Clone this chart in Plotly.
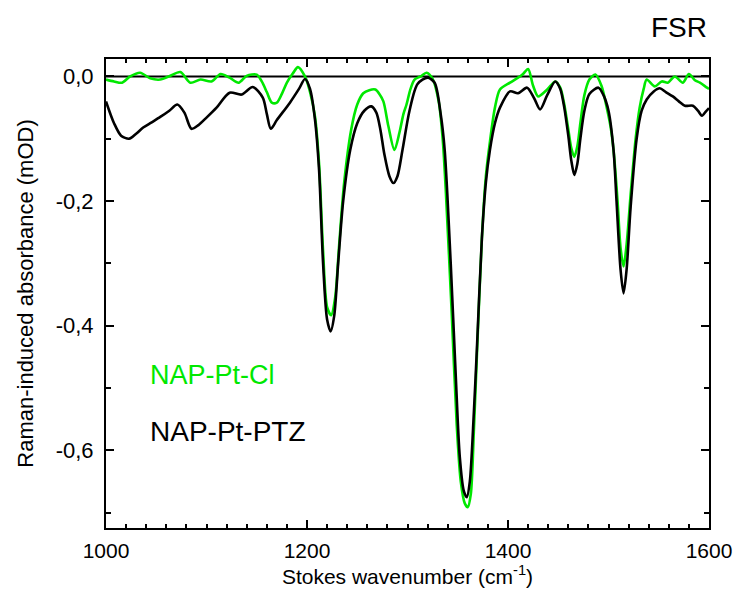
import plotly.graph_objects as go

# NAP-Pt-PTZ (black)
ptz_x = [1000, 1008, 1015, 1023, 1030, 1037, 1045, 1054, 1063, 1071, 1078, 1085, 1092, 1100,
         1110, 1123, 1135, 1146, 1156, 1160, 1164, 1170, 1183, 1192, 1198, 1203, 1208, 1212,
         1216, 1220, 1223.5, 1227, 1231, 1236, 1243, 1250, 1257, 1264, 1269, 1273, 1277, 1282,
         1286, 1290, 1295, 1302, 1310, 1320, 1327, 1333, 1337, 1343, 1348, 1352, 1356, 1359,
         1362, 1366, 1369, 1374, 1378, 1382, 1387, 1392, 1402, 1410, 1419, 1426, 1432, 1439,
         1447, 1452, 1456, 1460, 1463, 1466, 1469, 1472, 1476, 1481, 1490, 1495, 1500, 1505,
         1508, 1512, 1515, 1518, 1522, 1528, 1533, 1538, 1545, 1551, 1557, 1564, 1570, 1576,
         1584, 1589, 1593, 1597, 1600]
ptz_y = [-0.040, -0.075, -0.095, -0.100, -0.092, -0.082, -0.074, -0.065, -0.055, -0.045, -0.058, -0.084, -0.078, -0.066,
         -0.050, -0.026, -0.029, -0.017, -0.034, -0.060, -0.084, -0.070, -0.042, -0.020, -0.004, -0.020, -0.070, -0.150,
         -0.300, -0.390, -0.409, -0.385, -0.300, -0.200, -0.118, -0.075, -0.055, -0.048, -0.058, -0.085, -0.125, -0.160,
         -0.171, -0.160, -0.118, -0.055, -0.012, -0.002, -0.010, -0.060, -0.118, -0.300, -0.480, -0.610, -0.665, -0.675,
         -0.650, -0.540, -0.439, -0.260, -0.170, -0.118, -0.075, -0.050, -0.024, -0.027, -0.018, -0.035, -0.053, -0.030,
         -0.008, -0.020, -0.050, -0.095, -0.135, -0.158, -0.140, -0.100, -0.055, -0.028, -0.018, -0.030, -0.055, -0.118,
         -0.200, -0.310, -0.348, -0.310, -0.210, -0.100, -0.055, -0.037, -0.024, -0.019, -0.025, -0.032, -0.040, -0.047,
         -0.047, -0.055, -0.063, -0.056, -0.051]

# NAP-Pt-Cl (green)
cl_x = [1000, 1008, 1016, 1024, 1034, 1044, 1054, 1064, 1074, 1084, 1094, 1105, 1114, 1123, 1132,
        1140, 1150, 1155, 1160, 1165, 1170, 1175, 1180, 1186, 1191, 1198, 1203, 1208, 1212,
        1216, 1220, 1224, 1228, 1232, 1237, 1244, 1250, 1256, 1262, 1268, 1272, 1276, 1281,
        1287, 1292, 1296, 1299, 1303, 1307, 1313, 1319, 1325, 1331, 1335, 1338, 1344, 1349,
        1353, 1357, 1360, 1363, 1366, 1369, 1374, 1378, 1382, 1387, 1392, 1402, 1410, 1415,
        1420, 1425, 1430, 1439, 1447, 1452, 1456, 1460, 1463, 1466, 1469, 1472, 1476, 1481,
        1487, 1493, 1498, 1502, 1505, 1509, 1512, 1515, 1518, 1522, 1527, 1531, 1535, 1538,
        1546, 1553, 1559, 1566, 1574, 1580, 1586, 1591, 1598, 1600]
cl_y = [-0.005, -0.008, -0.010, 0.000, 0.006, -0.003, -0.005, 0.001, 0.007, -0.010, -0.005, -0.008, 0.004, -0.002, -0.010,
        0.001, 0.003, -0.008, -0.025, -0.042, -0.042, -0.028, -0.010, 0.005, 0.015, 0.000, -0.025, -0.065, -0.140,
        -0.280, -0.370, -0.383, -0.355, -0.270, -0.170, -0.085, -0.045, -0.027, -0.022, -0.021, -0.028, -0.040, -0.080,
        -0.118, -0.090, -0.060, -0.045, -0.020, -0.005, 0.000, 0.006, -0.004, -0.040, -0.100, -0.180, -0.380, -0.560,
        -0.650, -0.685, -0.691, -0.670, -0.570, -0.450, -0.260, -0.160, -0.105, -0.050, -0.021, -0.010, -0.002, 0.004,
        0.012, -0.015, -0.032, -0.021, -0.008, -0.018, -0.045, -0.085, -0.115, -0.129, -0.112, -0.075, -0.030, -0.005,
        0.003, -0.015, -0.048, -0.080, -0.118, -0.200, -0.275, -0.305, -0.270, -0.190, -0.100, -0.050, -0.020, -0.005,
        -0.016, -0.008, -0.010, 0.000, -0.010, 0.004, -0.006, -0.010, -0.018, -0.020]

x_ticks = [1000, 1200, 1400, 1600]
x_tick_labels = ["1000", "1200", "1400", "1600"]
y_ticks = [0.0, -0.2, -0.4, -0.6]
y_tick_labels = ["0,0", "-0,2", "-0,4", "-0,6"]

GREEN = "rgb(0,232,0)"
FONT = "Liberation Sans, Arial, sans-serif"

fig = go.Figure()
fig.add_trace(go.Scatter(x=cl_x, y=cl_y, mode="lines", name="NAP-Pt-Cl",
                         line=dict(color=GREEN, width=2.6, shape="spline", smoothing=0.8)))
fig.add_trace(go.Scatter(x=ptz_x, y=ptz_y, mode="lines", name="NAP-Pt-PTZ",
                         line=dict(color="black", width=2.6, shape="spline", smoothing=0.8)))

fig.add_shape(type="line", xref="x", yref="y", x0=1000, x1=1600, y0=0, y1=0,
              line=dict(color="black", width=2), layer="below")

axis_common = dict(showline=True, linecolor="black", linewidth=2, mirror="ticks",
                   ticks="inside", ticklen=8, tickwidth=1.5, tickcolor="black",
                   showgrid=False, zeroline=False, automargin=False)

fig.update_xaxes(range=[1000, 1600], tickvals=x_ticks, ticktext=x_tick_labels,
                 minor=dict(dtick=20, ticks="inside", ticklen=4, tickwidth=1.5, tickcolor="black"),
                 title=dict(text="Stokes wavenumber (cm<sup>-1</sup>)",
                            font=dict(family=FONT, size=21, color="black"), standoff=8),
                 tickfont=dict(family=FONT, size=21, color="black"),
                 ticklabelstandoff=3, ticklabeloverflow="allow",
                 **axis_common)
fig.update_yaxes(range=[-0.7245, 0.028], tickvals=y_ticks, ticktext=y_tick_labels,
                 minor=dict(dtick=0.1, tick0=0, ticks="inside", ticklen=5, tickwidth=1.5, tickcolor="black"),
                 title=dict(text="Raman-induced absorbance (mOD)",
                            font=dict(family=FONT, size=22, color="black"), standoff=16),
                 tickfont=dict(family=FONT, size=22, color="black"),
                 ticklabelstandoff=6,
                 **axis_common)

fig.add_annotation(x=1042, y=-0.4785, xref="x", yref="y", text="NAP-Pt-Cl", showarrow=False,
                   xanchor="left", yanchor="middle", font=dict(family=FONT, size=27, color=GREEN))
fig.add_annotation(x=1042, y=-0.570, xref="x", yref="y", text="NAP-Pt-PTZ", showarrow=False,
                   xanchor="left", yanchor="middle", font=dict(family=FONT, size=28, color="black"))
fig.add_annotation(x=1.0, y=1.068, xref="paper", yref="paper", text="FSR", showarrow=False,
                   xanchor="right", yanchor="middle", font=dict(family=FONT, size=28, color="black"))

fig.update_layout(width=736, height=597, margin=dict(l=106, r=27, t=59, b=69),
                  plot_bgcolor="white", paper_bgcolor="white", showlegend=False,
                  hovermode=False, font=dict(family=FONT, color="black"))

# remove the default 8px page margin so the figure fills the window exactly
fig.write_html("out.html", config={"displayModeBar": False},
               post_script="document.body.style.margin='0';document.body.style.overflow='hidden';")
